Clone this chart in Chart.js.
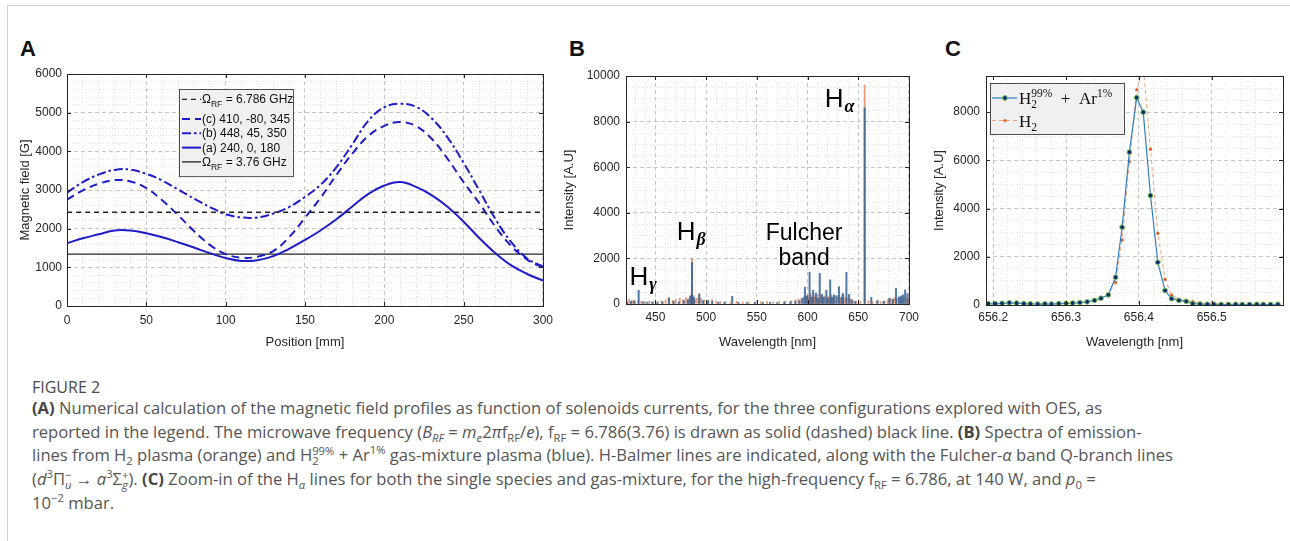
<!DOCTYPE html>
<html>
<head>
<meta charset="utf-8">
<script src="https://cdn.jsdelivr.net/npm/chart.js@4.4.0/dist/chart.umd.min.js"></script>
<style>
  html, body { margin: 0; padding: 0; background: #fff; }
  body { width: 1290px; height: 541px; position: relative; overflow: hidden; font-family: "Liberation Sans", Arial, sans-serif; }
  .frame-top { position: absolute; left: 7px; top: 5px; right: 0; height: 1px; background: #cfcfcf; }
  .frame-left { position: absolute; left: 7px; top: 5px; bottom: 0; width: 1px; background: #cfcfcf; }
  .letter { position: absolute; font: bold 22px "Liberation Sans", Arial, sans-serif; line-height: 22px; color: #111; }
  canvas { position: absolute; }
  .cap-title { position: absolute; left: 32px; top: 377px; font: 16px "Open Sans", sans-serif; line-height: 20px; color: #4a4a4a; }
  .caption { position: absolute; left: 32px; top: 396px; font: 16.6px "Open Sans", sans-serif; line-height: 23.6px; color: #555; white-space: nowrap; }
  .caption b { color: #444; }
  .caption sub, .caption sup { font-size: 68%; line-height: 0; }
  .ss { display: inline-block; vertical-align: -0.38em; font-size: 68%; line-height: 0.95; text-align: left; }
  .ss span { display: block; }
</style>
</head>
<body>
<div class="frame-top"></div>
<div class="frame-left"></div>

<div class="letter" style="left:20px;top:38px">A</div>
<div class="letter" style="left:569px;top:38px">B</div>
<div class="letter" style="left:945px;top:38px">C</div>

<canvas id="chartA" width="560" height="290" style="left:0;top:60px"></canvas>
<canvas id="chartB" width="365" height="290" style="left:560px;top:60px"></canvas>
<canvas id="chartC" width="365" height="290" style="left:925px;top:60px"></canvas>

<div class="cap-title">FIGURE 2</div>
<div class="caption">
  <div><b>(A)</b> Numerical calculation of the magnetic field profiles as function of solenoids currents, for the three configurations explored with OES, as</div>
  <div>reported in the legend. The microwave frequency (<i>B<sub>RF</sub></i> = <i>m<sub>e</sub></i>2<i>π</i>f<sub>RF</sub>/<i>e</i>), f<sub>RF</sub> = 6.786(3.76) is drawn as solid (dashed) black line. <b>(B)</b> Spectra of emission-</div>
  <div>lines from H<sub>2</sub> plasma (orange) and H<span class="ss"><span>99%</span><span>2</span></span> + Ar<sup>1%</sup> gas-mixture plasma (blue). H-Balmer lines are indicated, along with the Fulcher-<i>α</i> band Q-branch lines</div>
  <div>(<i>d</i><sup>3</sup>Π<span class="ss"><span>−</span><span><i>u</i></span></span> → <i>a</i><sup>3</sup>Σ<span class="ss"><span>+</span><span><i>g</i></span></span>). <b>(C)</b> Zoom-in of the H<sub><i>α</i></sub> lines for both the single species and gas-mixture, for the high-frequency f<sub>RF</sub> = 6.786, at 140 W, and <i>p</i><sub>0</sub> =</div>
  <div>10<sup>−2</sup> mbar.</div>
</div>

<script>
// ---------- panel A: magnetic field profiles ----------
const positionMm = [0, 10, 20, 30, 40, 50, 60, 70, 80, 90, 100, 110, 120, 130, 140, 150,
  160, 170, 180, 190, 200, 210, 220, 230, 240, 250, 260, 270, 280, 290, 300];
// (a) 240, 0, 180
const fieldA = [1624, 1751, 1854, 1955, 1950, 1880, 1777, 1649, 1513, 1367, 1240, 1165, 1185, 1290, 1480, 1708,
  1960, 2250, 2580, 2900, 3115, 3205, 3080, 2863, 2563, 2180, 1752, 1367, 1051, 828, 656];
// (b) 448, 45, 350
const fieldB = [2931, 3205, 3400, 3520, 3527, 3417, 3246, 3015, 2776, 2562, 2374, 2290, 2290, 2390, 2560, 2820,
  3140, 3600, 4190, 4795, 5140, 5230, 5150, 4850, 4350, 3700, 2980, 2250, 1650, 1230, 1020];
// (c) 410, -80, 345
const fieldC = [2751, 2990, 3162, 3256, 3222, 3051, 2734, 2350, 1940, 1581, 1342, 1250, 1275, 1420, 1780, 2282,
  2810, 3400, 3950, 4400, 4660, 4760, 4650, 4320, 3800, 3200, 2650, 2050, 1550, 1200, 990];
const resonanceX = [0, 300];
const bRes6786 = 2424;   // G, 6.786 GHz
const bRes376 = 1343;    // G, 3.76 GHz

const legendLabelsA = [
  [{ t: 'Ω' }, { sub: 'RF' }, { t: ' = 6.786 GHz' }],
  [{ t: '(c) 410, -80, 345' }],
  [{ t: '(b) 448, 45, 350' }],
  [{ t: '(a) 240, 0, 180' }],
  [{ t: 'Ω' }, { sub: 'RF' }, { t: ' = 3.76 GHz' }]
];

// ---------- panel B: emission spectra ----------
const mixNm = [422, 426, 429, 433.5, 438, 442, 447, 452, 457, 463.4,
  468, 473, 478, 482, 484.5, 486.1, 488, 493.3, 497, 502,
  506, 512, 518, 525.7, 532, 540, 548, 556, 563, 570,
  577, 583, 588, 592, 595, 597.4, 599.5, 602.0, 604.0, 605.5,
  608.2, 610.0, 612.0, 614.3, 616.0, 618.5, 620.0, 622.3, 624.0, 626.0,
  628.5, 631.0, 633.5, 635.0, 638.3, 641.0, 643.5, 647.0, 656.3, 662.8,
  669, 675, 680.6, 684, 687.2, 690, 692, 694, 696.2, 698.5];
const mixIntensity = [80, 120, 150, 600, 100, 80, 90, 70, 100, 250,
  120, 90, 150, 200, 350, 1820, 300, 440, 150, 150,
  120, 80, 80, 335, 70, 60, 80, 70, 80, 60,
  90, 100, 120, 150, 250, 740, 350, 1385, 300, 600,
  480, 250, 1340, 420, 300, 600, 250, 1060, 300, 400,
  360, 760, 300, 450, 1385, 420, 200, 120, 8600, 290,
  150, 120, 250, 200, 690, 300, 350, 400, 620, 450];
const h2Nm = [421.5, 424, 427, 430, 433, 436, 440, 444, 448, 452,
  456, 460, 463, 467, 470, 474, 477, 480, 482.5, 484,
  485.4, 486.1, 487, 489, 491, 493, 495, 498, 502, 506,
  510, 514, 519, 524, 530, 536, 542, 548, 554, 560,
  566, 572, 578, 584, 588, 591, 594, 596, 598, 600,
  601.8, 603.2, 604.8, 606.5, 608, 609.8, 611, 613, 615, 616.8,
  618.5, 620.2, 621.5, 623.2, 625, 626.6, 628.8, 630.8, 632.5, 634.2,
  636, 638, 640, 642.5, 645, 648, 652, 656.3, 660, 664,
  668, 672, 676, 679, 681.5, 683.5, 685.5, 688, 690.5, 692.5,
  694.5, 697, 699.3];
const h2Intensity = [120, 200, 150, 100, 150, 120, 100, 130, 90, 110,
  140, 180, 300, 160, 200, 250, 180, 280, 220, 330,
  420, 2010, 380, 200, 250, 430, 250, 180, 150, 200,
  130, 110, 100, 90, 120, 90, 100, 80, 100, 110,
  90, 110, 130, 150, 180, 210, 250, 300, 350, 400,
  300, 450, 280, 350, 300, 420, 260, 380, 300, 350,
  260, 330, 280, 420, 260, 380, 300, 350, 260, 420,
  250, 300, 280, 200, 150, 120, 100, 9600, 150, 100,
  120, 100, 130, 180, 250, 200, 280, 230, 300, 260,
  320, 280, 250];

const annotB = [
  { x: 617, y: 8630, main: 'H', sub: 'α' },
  { x: 471, y: 2810, main: 'H', sub: 'β' },
  { x: 424.5, y: 845, main: 'H', sub: 'γ' },
  { x: 596.6, y: 2810, main: 'Fulcher', center: true },
  { x: 596.6, y: 1720, main: 'band', center: true }
];

// ---------- panel C: H-alpha zoom ----------
const cNm = [656.193, 656.203, 656.212, 656.222, 656.232, 656.242, 656.251, 656.261, 656.271, 656.280,
  656.290, 656.300, 656.309, 656.319, 656.329, 656.339, 656.348, 656.358, 656.368, 656.377,
  656.387, 656.397, 656.406, 656.416, 656.426, 656.436, 656.445, 656.455, 656.465, 656.474,
  656.484, 656.494, 656.503, 656.513, 656.523, 656.533, 656.542, 656.552, 656.562, 656.571,
  656.581, 656.591];
const cMix = [60, 50, 70, 90, 80, 60, 50, 40, 50, 40,
  60, 70, 80, 100, 130, 190, 280, 420, 1150, 3225,
  6340, 8600, 8000, 4540, 1770, 600, 260, 190, 150, 60,
  40, 30, 30, 20, 20, 30, 20, 20, 30, 20,
  20, 30];
const cH2 = [40, 50, 60, 80, 60, 50, 40, 40, 50, 50,
  60, 80, 90, 100, 110, 210, 280, 415, 940, 2700,
  5950, 8930, 9900, 6460, 2975, 1065, 415, 235, 180, 140,
  80, 60, 50, 40, 40, 30, 30, 30, 20, 20,
  20, 20];

const legendLabelsC = [
  [{ t: 'H' }, { sub: '2', sup: '99%' }, { t: '\u2002+\u2002Ar' }, { sup: '1%' }],
  [{ t: 'H' }, { sub: '2' }]
];

// ---------- helpers ----------
const FONT = '"Liberation Sans", Arial, sans-serif';
const SERIF = '"Liberation Serif", "DejaVu Serif", serif';
const INK = '#262626';
const BLUE = '#1c1cc8';

Chart.defaults.font.family = FONT;
Chart.defaults.color = INK;

function isMult(v, step) {
  const r = v / step;
  return Math.abs(r - Math.round(r)) < 1e-6;
}

function pts(xs, ys) {
  return xs.map((x, i) => ({ x: x, y: ys[i] }));
}

function axis(c) {
  return {
    type: 'linear',
    position: c.pos,
    min: c.min,
    max: c.max,
    offset: false,
    afterFit: s => { if (s.isHorizontal()) s.height = c.size; else s.width = c.size; },
    // keep only ticks that fall inside the axis range
    afterBuildTicks: s => { s.ticks = s.ticks.filter(t => t.value >= s.min - 1e-9 && t.value <= s.max + 1e-9); },
    ticks: {
      stepSize: c.minor,
      includeBounds: false,
      autoSkip: false,
      maxRotation: 0,
      padding: c.tickPad,
      color: INK,
      font: { size: 12 },
      callback: v => isMult(v, c.major) ? c.fmt(v) : ''
    },
    grid: {
      offset: false,
      drawTicks: false,
      lineWidth: 1,
      color: ctx => ctx.tick && isMult(ctx.tick.value, c.major) ? '#c6c6c6' : '#e1e1e1'
    },
    border: {
      display: false,
      dash: ctx => ctx.tick && isMult(ctx.tick.value, c.major) ? [4, 3] : [1, 2]
    },
    title: {
      display: true,
      text: c.title,
      color: INK,
      font: { size: 13 },
      padding: { top: c.titlePad, bottom: 0 }
    }
  };
}

// draws simple rich text (subscripts / superscripts), returns width
function drawRich(ctx, segs, x, y, st) {
  let cx = x;
  segs.forEach(s => {
    if (s.t !== undefined) {
      ctx.font = st.font;
      ctx.fillText(s.t, cx, y);
      cx += ctx.measureText(s.t).width;
    } else {
      ctx.font = st.small;
      let w = 0;
      if (s.sub !== undefined) {
        ctx.fillText(s.sub, cx, y + st.subDy);
        w = Math.max(w, ctx.measureText(s.sub).width);
      }
      if (s.sup !== undefined) {
        ctx.fillText(s.sup, cx, y - st.supDy);
        w = Math.max(w, ctx.measureText(s.sup).width);
      }
      cx += w;
    }
  });
  return cx - x;
}

// MATLAB-like box with inner tick marks, plus per-panel extras
function decor(extra) {
  return {
    id: 'decor',
    afterDatasetsDraw(chart) {
      const { ctx, chartArea: a, scales } = chart;
      ctx.save();
      ctx.strokeStyle = INK;
      ctx.lineWidth = 1;
      ctx.setLineDash([]);
      ctx.beginPath();
      scales.x.ticks.forEach(t => {
        if (!t.label) return;
        const px = Math.round(scales.x.getPixelForValue(t.value)) + 0.5;
        ctx.moveTo(px, a.bottom); ctx.lineTo(px, a.bottom - 4);
        ctx.moveTo(px, a.top); ctx.lineTo(px, a.top + 4);
      });
      scales.y.ticks.forEach(t => {
        if (!t.label) return;
        const py = Math.round(scales.y.getPixelForValue(t.value)) + 0.5;
        ctx.moveTo(a.left, py); ctx.lineTo(a.left + 4, py);
        ctx.moveTo(a.right, py); ctx.lineTo(a.right - 4, py);
      });
      ctx.stroke();
      ctx.strokeRect(Math.round(a.left) + 0.5, Math.round(a.top) + 0.5, Math.round(a.width), Math.round(a.height));
      ctx.restore();
      if (extra) {
        ctx.save();
        extra(chart);
        ctx.restore();
      }
    }
  };
}

function baseOptions(pad, xAxis, yAxis) {
  return {
    responsive: false,
    animation: false,
    devicePixelRatio: 1,
    layout: { padding: pad },
    plugins: { legend: { display: false }, tooltip: { enabled: false } },
    scales: { x: xAxis, y: yAxis }
  };
}

// ---------- chart A ----------
function legendA(chart) {
  const { ctx, chartArea: a } = chart;
  const left = a.left + 112, top = a.top + 15, w = 114;
  const rows = [];
  let y = top + 10.3;
  legendLabelsA.forEach(segs => {
    rows.push(y);
    y += 14.3 + (segs.some(s => s.sub) ? 5.4 : 0);
  });
  const h = rows[rows.length - 1] + 14.3 - top;
  ctx.fillStyle = '#f0f0f0';
  ctx.fillRect(left, top, w, h);
  ctx.strokeStyle = INK;
  ctx.lineWidth = 0.8;
  ctx.strokeRect(left + 0.5, top + 0.5, w, h);
  const st = { font: '12px ' + FONT, small: '8.5px ' + FONT, subDy: 4, supDy: 5 };
  chart.data.datasets.forEach((ds, i) => {
    const yy = rows[i];
    ctx.strokeStyle = ds.borderColor;
    ctx.lineWidth = ds.borderWidth;
    ctx.setLineDash(ds.borderDash || []);
    ctx.beginPath();
    ctx.moveTo(left + 3, yy);
    ctx.lineTo(left + 22, yy);
    ctx.stroke();
    ctx.setLineDash([]);
    ctx.fillStyle = '#111';
    ctx.textBaseline = 'alphabetic';
    drawRich(ctx, legendLabelsA[i], left + 23, yy + 4, st);
  });
}

const lineCommon = { pointRadius: 0, tension: 0.4, fill: false };

new Chart(document.getElementById('chartA'), {
  type: 'line',
  data: {
    datasets: [
      Object.assign({ data: pts(resonanceX, [bRes6786, bRes6786]), borderColor: '#222', borderWidth: 1.3, borderDash: [5, 4] }, lineCommon),
      Object.assign({ data: pts(positionMm, fieldC), borderColor: BLUE, borderWidth: 2, borderDash: [8, 5] }, lineCommon),
      Object.assign({ data: pts(positionMm, fieldB), borderColor: BLUE, borderWidth: 2, borderDash: [9, 3, 2.5, 3] }, lineCommon),
      Object.assign({ data: pts(positionMm, fieldA), borderColor: BLUE, borderWidth: 2 }, lineCommon),
      Object.assign({ data: pts(resonanceX, [bRes376, bRes376]), borderColor: '#222', borderWidth: 1.3 }, lineCommon)
    ]
  },
  options: baseOptions({ left: 0, top: 14, right: 12, bottom: 0 },
    axis({ pos: 'bottom', min: 0, max: 300, minor: 10, major: 50, title: 'Position [mm]', size: 44, tickPad: 7, titlePad: 8, fmt: v => String(v) }),
    axis({ pos: 'left', min: 0, max: 6000, minor: 200, major: 1000, title: 'Magnetic field [G]', size: 67, tickPad: 5, titlePad: 18, fmt: v => String(Math.round(v)) })),
  plugins: [decor(legendA)]
});

// ---------- chart B ----------
function labelsB(chart) {
  const { ctx, scales } = chart;
  ctx.fillStyle = '#000';
  ctx.textBaseline = 'alphabetic';
  annotB.forEach(n => {
    const px = scales.x.getPixelForValue(n.x);
    const py = scales.y.getPixelForValue(n.y);
    if (n.center) {
      ctx.font = '23px ' + FONT;
      ctx.textAlign = 'center';
      ctx.fillText(n.main, px, py);
    } else {
      ctx.textAlign = 'left';
      ctx.font = '26px ' + FONT;
      ctx.fillText(n.main, px, py);
      const w = ctx.measureText(n.main).width;
      ctx.font = 'bold italic 18px ' + SERIF;
      ctx.fillText(n.sub, px + w + 1, py + 5);
    }
  });
}

new Chart(document.getElementById('chartB'), {
  type: 'bar',
  data: {
    datasets: [
      { label: 'H2 99% + Ar 1%', data: pts(mixNm, mixIntensity), backgroundColor: 'rgba(52,100,150,0.85)', barThickness: 1.4, grouped: false, order: 0 },
      { label: 'H2', data: pts(h2Nm, h2Intensity), backgroundColor: 'rgba(214,92,40,0.6)', barThickness: 1.2, grouped: false, order: 1 }
    ]
  },
  options: baseOptions({ left: 0, top: 16, right: 12, bottom: 0 },
    axis({ pos: 'bottom', min: 421, max: 700, minor: 10, major: 50, title: 'Wavelength [nm]', size: 46, tickPad: 6, titlePad: 8, fmt: v => String(v) }),
    axis({ pos: 'left', min: 0, max: 10000, minor: 500, major: 2000, title: 'Intensity [A.U]', size: 66, tickPad: 6, titlePad: 2, fmt: v => String(Math.round(v)) })),
  plugins: [decor(labelsB)]
});

// ---------- chart C ----------
function legendC(chart) {
  const { ctx, chartArea: a } = chart;
  const left = a.left + 4, top = a.top + 7, w = 134, h = 51;
  ctx.fillStyle = '#f0f0f0';
  ctx.fillRect(left, top, w, h);
  ctx.strokeStyle = INK;
  ctx.lineWidth = 0.8;
  ctx.strokeRect(left + 0.5, top + 0.5, w, h);
  const rows = [top + 15, top + 37.5];
  const st = { font: '17px ' + SERIF, small: '11.5px ' + SERIF, subDy: 4, supDy: 7 };
  chart.data.datasets.forEach((ds, i) => {
    const yy = rows[i];
    ctx.strokeStyle = ds.borderColor;
    ctx.lineWidth = ds.borderWidth;
    ctx.setLineDash(ds.borderDash || []);
    ctx.beginPath();
    ctx.moveTo(left + 2, yy);
    ctx.lineTo(left + 27, yy);
    ctx.stroke();
    ctx.setLineDash([]);
    ctx.beginPath();
    ctx.arc(left + 15, yy, ds.pointRadius, 0, Math.PI * 2);
    ctx.fillStyle = ds.pointBackgroundColor;
    ctx.fill();
    if (ds.pointBorderWidth) {
      ctx.lineWidth = ds.pointBorderWidth;
      ctx.strokeStyle = ds.pointBorderColor;
      ctx.stroke();
    }
    ctx.fillStyle = '#111';
    ctx.textBaseline = 'alphabetic';
    drawRich(ctx, legendLabelsC[i], left + 29, yy + 6, st);
  });
}

new Chart(document.getElementById('chartC'), {
  type: 'line',
  data: {
    datasets: [
      { label: 'H2 99% + Ar 1%', data: pts(cNm, cMix), borderColor: '#2f7fc0', borderWidth: 1.2, tension: 0,
        pointRadius: 2.4, pointBackgroundColor: '#0b2b78', pointBorderColor: '#79c24c', pointBorderWidth: 1, order: 0 },
      { label: 'H2', data: pts(cNm, cH2), borderColor: 'rgba(238,150,110,0.9)', borderWidth: 1, borderDash: [4, 3], tension: 0,
        pointRadius: 1.6, pointBackgroundColor: '#e05a20', pointBorderColor: '#e05a20', pointBorderWidth: 0, order: 1 }
    ]
  },
  options: baseOptions({ left: 0, top: 16, right: 7, bottom: 0 },
    axis({ pos: 'bottom', min: 656.19, max: 656.598, minor: 0.02, major: 0.1, title: 'Wavelength [nm]', size: 45, tickPad: 5, titlePad: 8, fmt: v => v.toFixed(1) }),
    axis({ pos: 'left', min: 0, max: 9500, minor: 500, major: 2000, title: 'Intensity [A.U]', size: 61, tickPad: 6, titlePad: 7, fmt: v => String(Math.round(v)) })),
  plugins: [decor(legendC)]
});
</script>
</body>
</html>
